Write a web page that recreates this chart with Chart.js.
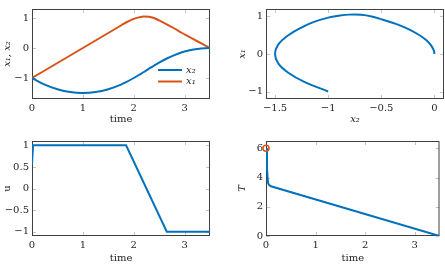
<!DOCTYPE html>
<html>
<head>
<meta charset="utf-8">
<script src="https://cdn.jsdelivr.net/npm/chart.js@4.4.0/dist/chart.umd.min.js"></script>
<style>
html, body { margin: 0; padding: 0; background: #fff; }
#wrap { position: relative; width: 445px; height: 265px; overflow: hidden; }
canvas { position: absolute; }
</style>
</head>
<body>
<div id="wrap">
  <canvas id="cStates" width="222" height="132" style="left:0;top:0"></canvas>
  <canvas id="cPhase" width="223" height="132" style="left:222px;top:0"></canvas>
  <canvas id="cU" width="222" height="133" style="left:0;top:132px"></canvas>
  <canvas id="cT" width="223" height="133" style="left:222px;top:132px"></canvas>
</div>
<script>
// states over time
const tState = [0, 0.25, 0.5, 0.75, 1, 1.25, 1.5, 1.75, 1.85, 2.0, 2.1, 2.2, 2.3, 2.4, 2.5, 2.65, 2.8, 2.95, 3.1, 3.25, 3.4, 3.5];
const x1 = [-1, -0.75, -0.5, -0.25, 0, 0.25, 0.5, 0.75, 0.85, 0.97, 1.02, 1.05, 1.045, 1.0, 0.92, 0.79, 0.65, 0.5, 0.365, 0.225, 0.09, 0];
const x2 = [-1, -1.22, -1.375, -1.47, -1.5, -1.47, -1.375, -1.22, -1.14, -1.0, -0.9, -0.8, -0.69, -0.59, -0.49, -0.35, -0.235, -0.14, -0.075, -0.03, -0.005, 0];

// control
const tU = [0, 0.02, 1.85, 2.65, 3.5];
const u = [0.55, 1, 1, -1, -1];

// T over time
const tT = [0, 0.02, 0.04, 0.06, 0.1, 3.5];
const T = [6, 4.6, 3.65, 3.5, 3.4, 0];
const tT0 = [0];
const T0 = [6];

// tick labels
const timeTicks = [0, 1, 2, 3];
const stateTicks = [-1, 0, 1];
const phaseXTicks = [-1.5, -1, -0.5, 0];
const uTicks = [-1, -0.5, 0, 0.5, 1];
const TTicks = [0, 2, 4, 6];

const BLUE = '#0072BD';
const ORANGE = '#D95319';
const TXT = '#262626';

Chart.defaults.font.family = '"DejaVu Serif", serif';
Chart.defaults.font.size = 10;
Chart.defaults.color = TXT;

const pts = (xs, ys) => xs.map((v, i) => ({ x: v, y: ys[i] }));
const fmt = v => (v < 0 ? '\u2212' + Math.abs(v) : String(v));

// frame + inside tick marks, pgfplots style
const framePlugin = {
  id: 'frame',
  beforeDatasetsDraw(chart) {
    const { ctx, chartArea: a, scales } = chart;
    ctx.save();
    ctx.strokeStyle = '#c4c4c4';
    ctx.lineWidth = 1;
    ctx.beginPath();
    scales.x.ticks.forEach(t => {
      const px = Math.round(scales.x.getPixelForValue(t.value)) + 0.5;
      ctx.moveTo(px, a.bottom); ctx.lineTo(px, a.bottom - 4);
      ctx.moveTo(px, a.top); ctx.lineTo(px, a.top + 4);
    });
    scales.y.ticks.forEach(t => {
      const py = Math.round(scales.y.getPixelForValue(t.value)) + 0.5;
      ctx.moveTo(a.left, py); ctx.lineTo(a.left + 4, py);
      ctx.moveTo(a.right, py); ctx.lineTo(a.right - 4, py);
    });
    ctx.stroke();
    ctx.strokeStyle = '#404040';
    ctx.strokeRect(a.left + 0.5, a.top + 0.5, a.right - a.left - 1, a.bottom - a.top - 1);
    ctx.restore();
  }
};

// legend inside the plot, lower right
const insideLegend = {
  id: 'insideLegend',
  afterDatasetsDraw(chart) {
    const ctx = chart.ctx;
    const a = chart.chartArea;
    const x0 = a.right - 52, y0 = a.bottom - 29;
    ctx.save();
    chart.data.datasets.forEach((ds, i) => {
      const y = y0 + i * 11.5;
      ctx.strokeStyle = ds.borderColor;
      ctx.lineWidth = 2;
      ctx.beginPath();
      ctx.moveTo(x0, y); ctx.lineTo(x0 + 24, y);
      ctx.stroke();
      ctx.fillStyle = TXT;
      ctx.font = 'italic 10px "DejaVu Serif"';
      ctx.textBaseline = 'middle';
      ctx.fillText(ds.label, x0 + 28, y);
    });
    ctx.restore();
  }
};

function axis(isY, min, max, ticks, size, title, italic, tickPad, titlePad) {
  return {
    type: 'linear', min: min, max: max,
    afterBuildTicks: s => { s.ticks = ticks.map(v => ({ value: v })); },
    afterFit: s => { if (isY) s.width = size; else s.height = size; },
    grid: { display: false, drawTicks: false, tickLength: 0 },
    border: { display: false },
    ticks: { padding: tickPad, callback: fmt, autoSkip: false, maxRotation: 0 },
    title: {
      display: true, text: title, padding: titlePad,
      font: { size: 10, style: italic ? 'italic' : 'normal' }
    }
  };
}

function line(label, data, color, extra) {
  return Object.assign({
    label: label, data: data, borderColor: color, backgroundColor: color,
    borderWidth: 2, pointRadius: 0, fill: false
  }, extra || {});
}

function make(id, datasets, xs, ys, pad, plugins) {
  return new Chart(document.getElementById(id), {
    type: 'line',
    data: { datasets: datasets },
    options: {
      responsive: false, animation: false, devicePixelRatio: 1,
      layout: { padding: pad },
      plugins: { legend: { display: false }, tooltip: { enabled: false } },
      scales: { x: xs, y: ys }
    },
    plugins: [framePlugin].concat(plugins || [])
  });
}

make('cStates',
  [
    line('x\u2082', pts(tState, x2), BLUE, { cubicInterpolationMode: 'monotone' }),
    line('x\u2081', pts(tState, x1), ORANGE, { cubicInterpolationMode: 'monotone' })
  ],
  axis(false, 0, 3.5, timeTicks, 33, 'time', false, 3, { top: 0, bottom: 7 }),
  axis(true, -1.7, 1.3, stateTicks, 32, 'x\u2081, x\u2082', true, 3, { top: 1, bottom: 0 }),
  { left: 0, top: 1, right: 12, bottom: 0 },
  [insideLegend]);

make('cPhase',
  [line('phase', pts(x2, x1), BLUE, { tension: 0.4 })],
  axis(false, -1.585, 0.09, phaseXTicks, 33, 'x\u2082', true, 3, { top: 0, bottom: 7 }),
  axis(true, -1.2, 1.2, stateTicks, 44, 'x\u2081', true, 3, { top: 14, bottom: 0 }),
  { left: 0, top: 1, right: 1, bottom: 0 });

make('cU',
  [line('u', pts(tU, u), BLUE)],
  axis(false, 0, 3.5, timeTicks, 29, 'time', false, 3, { top: 0, bottom: 1 }),
  axis(true, -1.1, 1.1, uTicks, 32, 'u', false, 3, { top: 1, bottom: 0 }),
  { left: 0, top: 5, right: 12, bottom: 0 });

make('cT',
  [
    line('start', pts(tT0, T0), ORANGE, {
      pointRadius: 3, pointBorderWidth: 1.5, pointBackgroundColor: 'rgba(0,0,0,0)',
      pointBorderColor: ORANGE, showLine: false, clip: false
    }),
    line('T', pts(tT, T), BLUE)
  ],
  axis(false, 0, 3.5, timeTicks, 29, 'time', false, 3, { top: 0, bottom: 1 }),
  axis(true, 0, 6.5, TTicks, 44, 'T', true, 3, { top: 14, bottom: 0 }),
  { left: 0, top: 5, right: 1, bottom: 0 });
</script>
</body>
</html>
